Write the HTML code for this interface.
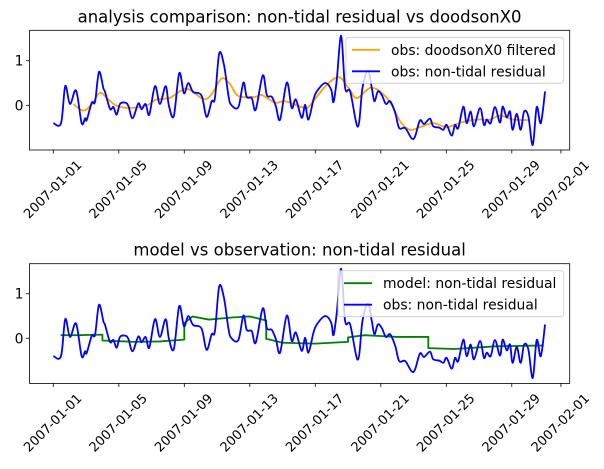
<!DOCTYPE html>
<html><head><meta charset="utf-8"><style>
html,body{margin:0;padding:0;background:#fff;}
svg{display:block;font-family:"DejaVu Sans","Liberation Sans",sans-serif;}
</style></head><body>
<svg id="chart" width="604" height="469" viewBox="0 0 604 469"></svg>
<script>
const tickDays = [0,4,8,12,16,20,24,28,31];
const tickLabels = ["2007-01-01","2007-01-05","2007-01-09","2007-01-13","2007-01-17","2007-01-21","2007-01-25","2007-01-29","2007-02-01"];
const yTicks = [0,1];
const obsDays = [0,0.47,0.73,1.02,1.39,1.73,1.94,2.04,2.35,2.55,2.79,3.06,3.16,3.46,3.67,3.87,4.07,4.38,4.58,4.84,5.19,5.39,5.64,5.86,6.21,6.51,6.86,7.06,7.36,7.69,7.98,8.24,8.54,9.05,9.36,9.67,9.87,10.13,10.42,10.69,10.86,11.3,11.61,11.81,12.12,12.36,12.79,13.04,13.34,13.59,13.85,14.26,14.56,14.81,15.17,15.38,15.58,15.89,16.09,16.6,16.97,17.11,17.31,17.58,17.82,18.13,18.6,18.88,19.21,19.45,19.61,19.82,20.06,20.31,20.57,20.88,21.12,21.49,21.88,22.09,22.39,22.64,23.0,23.2,23.57,23.82,24.02,24.33,24.53,24.73,25.04,25.24,25.49,25.69,26.06,26.3,26.47,26.71,26.97,27.28,27.44,27.69,27.89,28.05,28.3,28.54,28.75,29.01,29.28,29.52,29.77,30.03];
const obsVals = [-0.40,-0.40,0.43,0.03,0.33,-0.40,-0.29,-0.33,0.06,0.08,0.75,0.38,0.30,-0.08,-0.04,-0.21,0.03,0.06,-0.01,-0.29,0.04,-0.09,0.03,-0.21,0.43,0.03,0.43,-0.01,-0.24,0.72,0.27,0.50,0.30,0.22,-0.26,0.09,0.16,1.16,0.91,0.23,0.01,-0.04,0.51,0.19,0.16,-0.10,0.67,0.23,0.19,-0.02,-0.32,0.51,-0.06,0.13,-0.28,0.01,-0.32,0.13,0.31,0.50,0.35,0.07,0.57,1.56,0.39,0.31,-0.48,0.39,0.78,0.39,0.09,0.31,0.23,0.03,0.09,-0.17,-0.51,-0.51,-0.74,-0.70,-0.34,-0.42,-0.30,-0.47,-0.50,-0.55,-0.44,-0.68,-0.44,-0.51,-0.03,-0.40,-0.14,-0.47,-0.06,-0.44,-0.32,-0.40,-0.04,-0.39,-0.03,-0.27,-0.14,-0.55,-0.19,-0.55,-0.14,-0.25,-0.89,-0.04,-0.40,0.31];
const filtDays = [1.22,1.83,2.35,2.85,3.36,3.87,4.68,5.7,6.31,7.12,8.14,9.16,9.67,10.27,10.78,11.3,12.32,12.73,13.55,14.16,15.17,15.58,16.6,17.42,18.03,18.53,19.35,20.06,20.67,21.18,21.78,22.39,23.2,24.02,24.84,25.85,26.67,27.28,28.09,29.11];
const filtVals = [0.03,-0.12,0.03,0.28,0.13,-0.01,-0.06,0.0,0.13,0.17,0.37,0.14,0.25,0.6,0.48,0.21,0.19,0.23,0.06,0.09,-0.04,-0.04,0.42,0.63,0.39,0.16,0.39,0.28,0.01,-0.36,-0.55,-0.49,-0.40,-0.49,-0.39,-0.32,-0.32,-0.23,-0.32,-0.33];
const modelDays = [0.45,1.5,2.5,3.0,3.0,5.0,6.5,8.0,8.0,8.5,9.5,11.0,12.0,13.0,13.0,14.0,16.0,18.0,18.0,19.0,21.0,22.9,22.9,24.5,27.0,29.95];
const modelVals = [0.07,0.07,0.08,0.08,-0.05,-0.08,-0.07,-0.03,0.34,0.49,0.42,0.47,0.49,0.40,-0.01,-0.10,-0.12,-0.08,0.02,0.07,0.03,0.03,-0.22,-0.24,-0.18,-0.16];

const svg = document.getElementById('chart');
const NS = 'http://www.w3.org/2000/svg';
function mk(tag, attrs, parent){ const e=document.createElementNS(NS,tag); for(const k in attrs) e.setAttribute(k,attrs[k]); (parent||svg).appendChild(e); return e; }
const L=29.5, R=569.7;
const xs = d => 53.3 + d*16.375;
function smoothPath(ds, vs, ys){
  const p = ds.map((d,i)=>[xs(d), ys(vs[i])]);
  let s = 'M'+p[0][0].toFixed(2)+','+p[0][1].toFixed(2);
  for(let i=0;i<p.length-1;i++){
    const p0=p[Math.max(0,i-1)], p1=p[i], p2=p[i+1], p3=p[Math.min(p.length-1,i+2)];
    const c1=[p1[0]+(p2[0]-p0[0])/6, p1[1]+(p2[1]-p0[1])/6];
    const c2=[p2[0]-(p3[0]-p1[0])/6, p2[1]-(p3[1]-p1[1])/6];
    s+=' C'+c1[0].toFixed(2)+','+c1[1].toFixed(2)+' '+c2[0].toFixed(2)+','+c2[1].toFixed(2)+' '+p2[0].toFixed(2)+','+p2[1].toFixed(2);
  }
  return s;
}
function linePath(ds, vs, ys){ return ds.map((d,i)=>(i?'L':'M')+xs(d).toFixed(2)+','+ys(vs[i]).toFixed(2)).join(' '); }

function panel(top, bottom, zeroY, title, name, series, legend){
  const ys = v => zeroY - v*44.6;
  const g = mk('g', {});
  
  
  const t = mk('text', {x:(L+R)/2, y:top-8, 'text-anchor':'middle', 'font-size':'16.5', fill:'#000'}, g);
  t.textContent = title;
  
  
  const clipId = name+'-clip';
  const cp = mk('clipPath', {id:clipId}, g);
  mk('rect', {x:L, y:top, width:R-L, height:bottom-top}, cp);
  const sg = mk('g', {'clip-path':'url(#'+clipId+')'}, g);
  series.forEach(s=>{
    const p = mk('path', {d: s.smooth?smoothPath(s.d,s.v,ys):linePath(s.d,s.v,ys), fill:'none', stroke:s.color, 'stroke-width':'1.8', 'stroke-linejoin':'round'}, sg);
    
    
  });
  const frame = mk('rect', {x:L, y:top, width:R-L, height:bottom-top, fill:'none', stroke:'#000', 'stroke-width':'0.8'}, g);
  
  
  tickDays.forEach((d,i)=>{
    const x = xs(d);
    mk('line', {x1:x, x2:x, y1:bottom, y2:bottom+3.5, stroke:'#000', 'stroke-width':'0.8'}, g);
    const cx = x, cy = bottom+40;
    const tl = mk('text', {x:cx, y:cy, 'text-anchor':'middle', 'dominant-baseline':'central', 'font-size':'13', fill:'#000', transform:'rotate(-45 '+cx+' '+cy+')'}, g);
    tl.textContent = tickLabels[i];
    
    
  });
  yTicks.forEach(v=>{
    const y = ys(v);
    mk('line', {x1:L-3.5, x2:L, y1:y, y2:y, stroke:'#000', 'stroke-width':'0.8'}, g);
    const yl = mk('text', {x:L-6, y:y+5, 'text-anchor':'end', 'font-size':'13.9', fill:'#000'}, g);
    yl.textContent = String(v);
    
    
  });
  const lg = mk('g', {}, g);
  
  
  mk('rect', {x:legend.x, y:top+7, width:R-6-legend.x, height:46, rx:3, fill:'#fff', 'fill-opacity':'0.8', stroke:'#ccc', 'stroke-width':'0.8'}, lg);
  legend.items.forEach((it,i)=>{
    const cy = top+19.5+i*21.5;
    mk('line', {x1:legend.x+6, x2:legend.x+34, y1:cy, y2:cy, stroke:it.color, 'stroke-width':'1.8'}, lg);
    const lt = mk('text', {x:legend.x+45, y:cy+5, 'font-size':'13.9', fill:'#000'}, lg);
    lt.textContent = it.label;
    
    
  });
}
panel(30.3, 150, 105.3, 'analysis comparison: non-tidal residual vs doodsonX0', 'top-panel',
  [{d:filtDays, v:filtVals, color:'#ffa500', smooth:true, name:'filtered-line'},
   {d:obsDays, v:obsVals, color:'#0000ff', smooth:true, name:'obs-residual-line'}],
  {x:346, items:[{color:'#ffa500', label:'obs: doodsonX0 filtered'},{color:'#0000ff', label:'obs: non-tidal residual'}]});
panel(263.7, 383.4, 338.3, 'model vs observation: non-tidal residual', 'bottom-panel',
  [{d:modelDays, v:modelVals, color:'#008000', smooth:false, name:'model-residual-line'},
   {d:obsDays, v:obsVals, color:'#0000ff', smooth:true, name:'obs-residual-line'}],
  {x:338, items:[{color:'#008000', label:'model: non-tidal residual'},{color:'#0000ff', label:'obs: non-tidal residual'}]});
</script>
</body></html>
